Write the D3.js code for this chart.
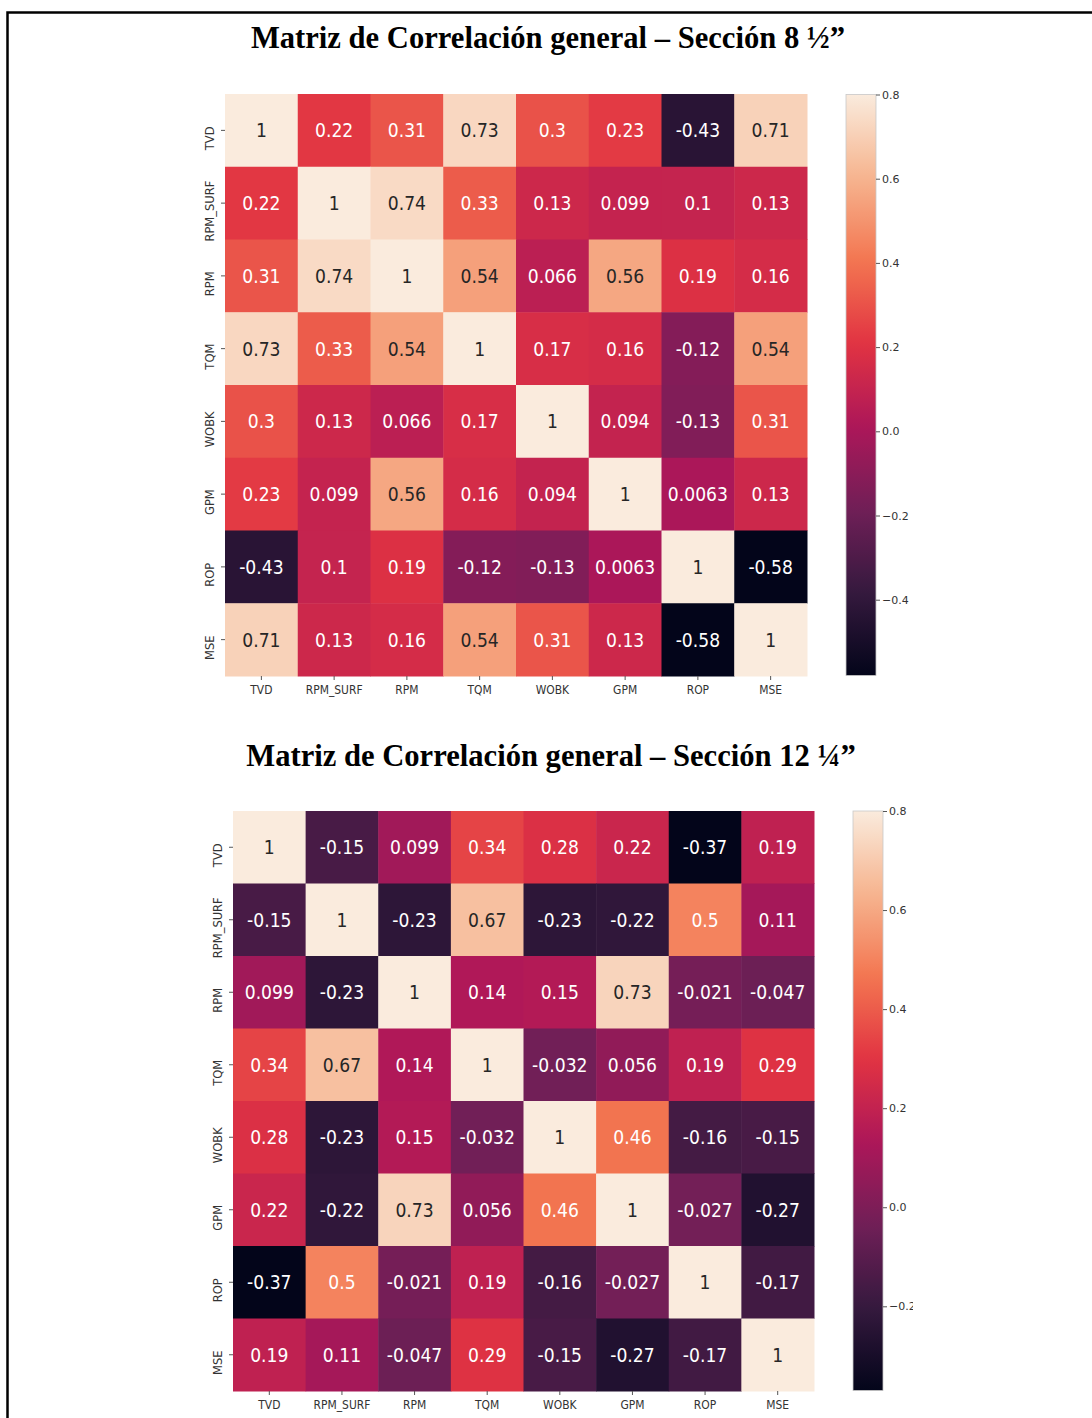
<!DOCTYPE html>
<html>
<head>
<meta charset="utf-8">
<script src="https://cdn.jsdelivr.net/npm/d3@7"></script>
<style>
  html, body { margin: 0; padding: 0; background: #fff; }
  svg { display: block; }
</style>
</head>
<body>
<svg id="fig" width="1092" height="1418"></svg>
<script>
// Variables shared by both correlation matrices
const variables = ["TVD", "RPM_SURF", "RPM", "TQM", "WOBK", "GPM", "ROP", "MSE"];

// Section 8 1/2" correlation matrix (row by row)
const corr85 = [
  [1, 0.22, 0.31, 0.73, 0.3, 0.23, -0.43, 0.71],
  [0.22, 1, 0.74, 0.33, 0.13, 0.099, 0.1, 0.13],
  [0.31, 0.74, 1, 0.54, 0.066, 0.56, 0.19, 0.16],
  [0.73, 0.33, 0.54, 1, 0.17, 0.16, -0.12, 0.54],
  [0.3, 0.13, 0.066, 0.17, 1, 0.094, -0.13, 0.31],
  [0.23, 0.099, 0.56, 0.16, 0.094, 1, 0.0063, 0.13],
  [-0.43, 0.1, 0.19, -0.12, -0.13, 0.0063, 1, -0.58],
  [0.71, 0.13, 0.16, 0.54, 0.31, 0.13, -0.58, 1]
];

// Section 12 1/4" correlation matrix (row by row)
const corr1225 = [
  [1, -0.15, 0.099, 0.34, 0.28, 0.22, -0.37, 0.19],
  [-0.15, 1, -0.23, 0.67, -0.23, -0.22, 0.5, 0.11],
  [0.099, -0.23, 1, 0.14, 0.15, 0.73, -0.021, -0.047],
  [0.34, 0.67, 0.14, 1, -0.032, 0.056, 0.19, 0.29],
  [0.28, -0.23, 0.15, -0.032, 1, 0.46, -0.16, -0.15],
  [0.22, -0.22, 0.73, 0.056, 0.46, 1, -0.027, -0.27],
  [-0.37, 0.5, -0.021, 0.19, -0.16, -0.027, 1, -0.17],
  [0.19, 0.11, -0.047, 0.29, -0.15, -0.27, -0.17, 1]
];

// Colour bar ranges and ticks
const range85 = [-0.58, 0.8];
const range1225 = [-0.37, 0.8];
const ticks85 = [-0.4, -0.2, 0.0, 0.2, 0.4, 0.6, 0.8];
const ticks1225 = [-0.2, 0.0, 0.2, 0.4, 0.6, 0.8];

const titles = [
  "Matriz de Correlación general – Sección 8 ½”",
  "Matriz de Correlación general – Sección 12 ¼”"
];

// "rocket" sequential colormap, piecewise linear between anchor colours
const rocket = ["#03051a", "#35193e", "#701f57", "#ad1759", "#e13342", "#f37651", "#f6b48f", "#faebdd"];

const svg = d3.select("#fig");
const FONT = "'DejaVu Sans', sans-serif";
const SQUEEZE = 0.86;   // horizontal text compression

// page frame
svg.append("path")
  .attr("d", "M1092,12.5 H7.5 V1418")
  .attr("fill", "none").attr("stroke", "#000").attr("stroke-width", 2.5);

function relLum(c) {
  const rgb = d3.rgb(c);
  const f = v => { v /= 255; return v <= 0.03928 ? v / 12.92 : Math.pow((v + 0.055) / 1.055, 2.4); };
  return 0.2126 * f(rgb.r) + 0.7152 * f(rgb.g) + 0.0722 * f(rgb.b);
}

const fmt = v => d3.format(".2~g")(v).replace("−", "-");

function squeezedText(g, x, y, str, opts) {
  const t = g.append("text")
    .attr("transform", `translate(${x},${y}) scale(${opts.sx || 1},1)`)
    .attr("text-anchor", opts.anchor || "middle")
    .attr("font-family", opts.family || FONT)
    .attr("font-size", opts.size)
    .attr("fill", opts.fill || "#262626")
    .text(str);
  if (opts.weight) t.attr("font-weight", opts.weight);
  return t;
}

function drawMatrix(cfg) {
  const { matrix, vrange, ticks, title, box, cbar, titlePos, clipX } = cfg;
  const g = svg.append("g");

  const [vmin, vmax] = vrange;
  const color = d3.scaleLinear()
    .domain(rocket.map((_, i) => vmin + (vmax - vmin) * i / (rocket.length - 1)))
    .range(rocket)
    .interpolate(d3.interpolateRgb)
    .clamp(true);

  // title
  squeezedText(g, titlePos[0], titlePos[1], title, {
    size: 30.6, family: "'Liberation Serif', 'Times New Roman', serif",
    weight: "bold", fill: "#000"
  });

  const x = d3.scaleBand().domain(variables).range([box.x0, box.x1]);
  const y = d3.scaleBand().domain(variables).range([box.y0, box.y1]);

  const cells = [];
  matrix.forEach((row, i) => row.forEach((v, j) => cells.push({ r: variables[i], c: variables[j], v })));

  g.append("g").selectAll("rect").data(cells).join("rect")
    .attr("x", d => x(d.c)).attr("y", d => y(d.r))
    .attr("width", x.bandwidth() + 0.5).attr("height", y.bandwidth() + 0.5)
    .attr("fill", d => color(d.v));

  const ann = g.append("g");
  cells.forEach(d => {
    const fill = relLum(color(d.v)) > 0.408 ? "#262626" : "#ffffff";
    squeezedText(ann, x(d.c) + x.bandwidth() / 2, y(d.r) + y.bandwidth() / 2 + 7, fmt(d.v),
      { size: 20, sx: SQUEEZE, fill });
  });

  // x axis
  const xa = g.append("g").attr("transform", `translate(0,${box.y1})`)
    .call(d3.axisBottom(x).tickSize(4).tickSizeOuter(0).tickPadding(3));
  xa.select(".domain").remove();
  xa.selectAll("line").attr("stroke", "#555").attr("stroke-width", 1);
  xa.selectAll("text").remove();
  variables.forEach(v => squeezedText(xa, x(v) + x.bandwidth() / 2, 18, v, { size: 12.5, sx: SQUEEZE, fill: "#333" }));

  // y axis (rotated labels)
  const ya = g.append("g").attr("transform", `translate(${box.x0},0)`)
    .call(d3.axisLeft(y).tickSize(4).tickSizeOuter(0));
  ya.select(".domain").remove();
  ya.selectAll("line").attr("stroke", "#555").attr("stroke-width", 1);
  ya.selectAll("text").remove();
  variables.forEach(v => {
    ya.append("text")
      .attr("transform", `translate(-11,${y(v) + y.bandwidth() / 2 + 8}) rotate(-90)`)
      .attr("text-anchor", "middle")
      .attr("font-family", FONT).attr("font-size", 11.5)
      .attr("fill", "#333")
      .text(v);
  });

  // colour bar
  const gid = "grad" + Math.round(vmin * 100);
  const grad = svg.append("defs").append("linearGradient")
    .attr("id", gid).attr("x1", 0).attr("y1", 1).attr("x2", 0).attr("y2", 0);
  d3.range(0, 1.0001, 0.02).forEach(t => {
    grad.append("stop").attr("offset", t).attr("stop-color", color(vmin + (vmax - vmin) * t));
  });
  g.append("rect")
    .attr("x", cbar.x0).attr("y", cbar.y0)
    .attr("width", cbar.x1 - cbar.x0).attr("height", cbar.y1 - cbar.y0)
    .attr("fill", `url(#${gid})`)
    .attr("stroke", "#c8c8c8").attr("stroke-width", 0.8);

  const cy = d3.scaleLinear().domain([vmin, vmax]).range([cbar.y1, cbar.y0]);
  const cbAxis = g.append("g").attr("transform", `translate(${cbar.x1},0)`);
  if (clipX) {
    const cid = "clip" + Math.round(vmin * 100);
    svg.select("defs").append("clipPath").attr("id", cid)
      .append("rect").attr("x", 0).attr("y", 0).attr("width", clipX - cbar.x1).attr("height", 1418);
    cbAxis.attr("clip-path", `url(#${cid})`);
  }
  cbAxis.call(d3.axisRight(cy).tickValues(ticks).tickSize(4).tickPadding(2)
      .tickFormat(d => d3.format(".1f")(d)))
    .call(a => a.select(".domain").remove())
    .call(a => a.selectAll("line").attr("stroke", "#555"))
    .call(a => a.selectAll("text").attr("font-family", FONT).attr("font-size", 11).attr("fill", "#333"));
}

drawMatrix({
  matrix: corr85, vrange: range85, ticks: ticks85, title: titles[0],
  titlePos: [548, 48],
  box: { x0: 225, x1: 807, y0: 94, y1: 676 },
  cbar: { x0: 846, x1: 876, y0: 94.5, y1: 675.5 }
});

drawMatrix({
  matrix: corr1225, vrange: range1225, ticks: ticks1225, title: titles[1],
  titlePos: [551, 766],
  box: { x0: 233, x1: 814, y0: 811, y1: 1391 },
  cbar: { x0: 853, x1: 883, y0: 811, y1: 1390.5 },
  clipX: 913
});
</script>
</body>
</html>
